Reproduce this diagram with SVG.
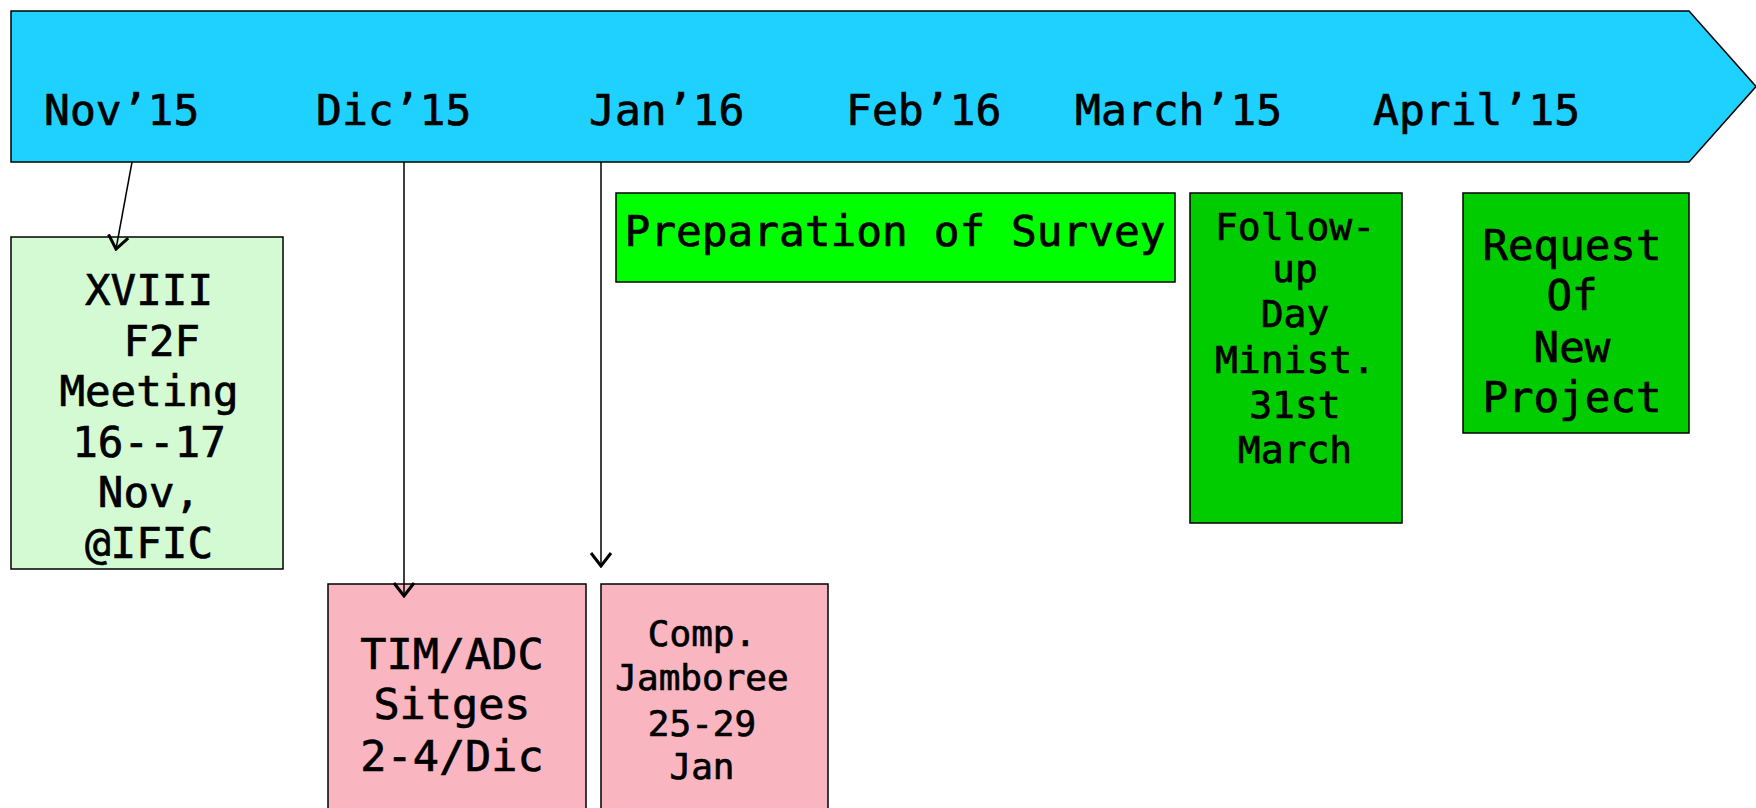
<svg xmlns="http://www.w3.org/2000/svg" width="1756" height="808" viewBox="0 0 1756 808">
<style>
text{font-family:"DejaVu Sans Mono","Liberation Mono",monospace;fill:#000;stroke:#000;stroke-width:0.7;text-anchor:middle}
.box{stroke:#000;stroke-width:1.5}
.mon{font-size:43px;text-anchor:start}
.conn{stroke:#000;stroke-width:1.5;fill:none}
</style>
<defs>
<marker id="arr" viewBox="-14 -12 16 24" refX="0" refY="0" markerWidth="16" markerHeight="24" markerUnits="userSpaceOnUse" orient="auto">
<path d="M-13,-10 L0,0 L-13,10" fill="none" stroke="#000" stroke-width="3"/>
</marker>
</defs>
<rect width="1756" height="808" fill="#fff"/>
<g id="timeline">
<polygon points="11,11 1689,11 1756,86.5 1689,162 11,162" fill="#1fd1ff" stroke="#000" stroke-width="1.5"/>
<text class="mon" x="44" y="125">Nov’15</text>
<text class="mon" x="316" y="125">Dic’15</text>
<text class="mon" x="589" y="125">Jan’16</text>
<text class="mon" x="846" y="125">Feb’16</text>
<text class="mon" x="1075" y="125">March’15</text>
<text class="mon" x="1373" y="125">April’15</text>
</g>
<g id="f2f">
<rect class="box" x="11" y="237" width="272" height="332" fill="#d4fad4"/>
<text font-size="42.5" x="149" y="305">XVIII</text>
<text font-size="42.5" x="149" y="356" xml:space="preserve"> F2F</text>
<text font-size="42.5" x="149" y="406">Meeting</text>
<text font-size="42.5" x="149" y="457">16--17</text>
<text font-size="42.5" x="149" y="507">Nov,</text>
<text font-size="42.5" x="149" y="558">@IFIC</text>
</g>
<g id="timadc">
<rect class="box" x="328" y="584" width="258" height="230" fill="#f9b6c1"/>
<text font-size="43.5" x="452" y="669">TIM/ADC</text>
<text font-size="43.5" x="452" y="719">Sitges</text>
<text font-size="43.5" x="452" y="771">2-4/Dic</text>
</g>
<g id="jamboree">
<rect class="box" x="601" y="584" width="227" height="230" fill="#f9b6c1"/>
<text font-size="36" x="702" y="646">Comp.</text>
<text font-size="36" x="702" y="690">Jamboree</text>
<text font-size="36" x="702" y="736">25-29</text>
<text font-size="36" x="702" y="779">Jan</text>
</g>
<g id="survey">
<rect class="box" x="616" y="193" width="559" height="89" fill="#00ff00"/>
<text font-size="42.8" x="895" y="246">Preparation of Survey</text>
</g>
<g id="followup">
<rect class="box" x="1190" y="193" width="212" height="330" fill="#00cc00"/>
<text font-size="38" x="1295" y="240">Follow-</text>
<text font-size="38" x="1295" y="282">up</text>
<text font-size="38" x="1295" y="327">Day</text>
<text font-size="38" x="1295" y="373">Minist.</text>
<text font-size="38" x="1295" y="418">31st</text>
<text font-size="38" x="1295" y="463">March</text>
</g>
<g id="request">
<rect class="box" x="1463" y="193" width="226" height="240" fill="#00cc00"/>
<text font-size="42.5" x="1572" y="260">Request</text>
<text font-size="42.5" x="1572" y="310">Of</text>
<text font-size="42.5" x="1572" y="362">New</text>
<text font-size="42.5" x="1572" y="412">Project</text>
</g>
<g id="connectors">
<line class="conn" x1="132" y1="162" x2="116" y2="249" marker-end="url(#arr)"/>
<line class="conn" x1="404" y1="162" x2="404" y2="596" marker-end="url(#arr)"/>
<line class="conn" x1="601" y1="162" x2="601" y2="566" marker-end="url(#arr)"/>
</g>
</svg>
